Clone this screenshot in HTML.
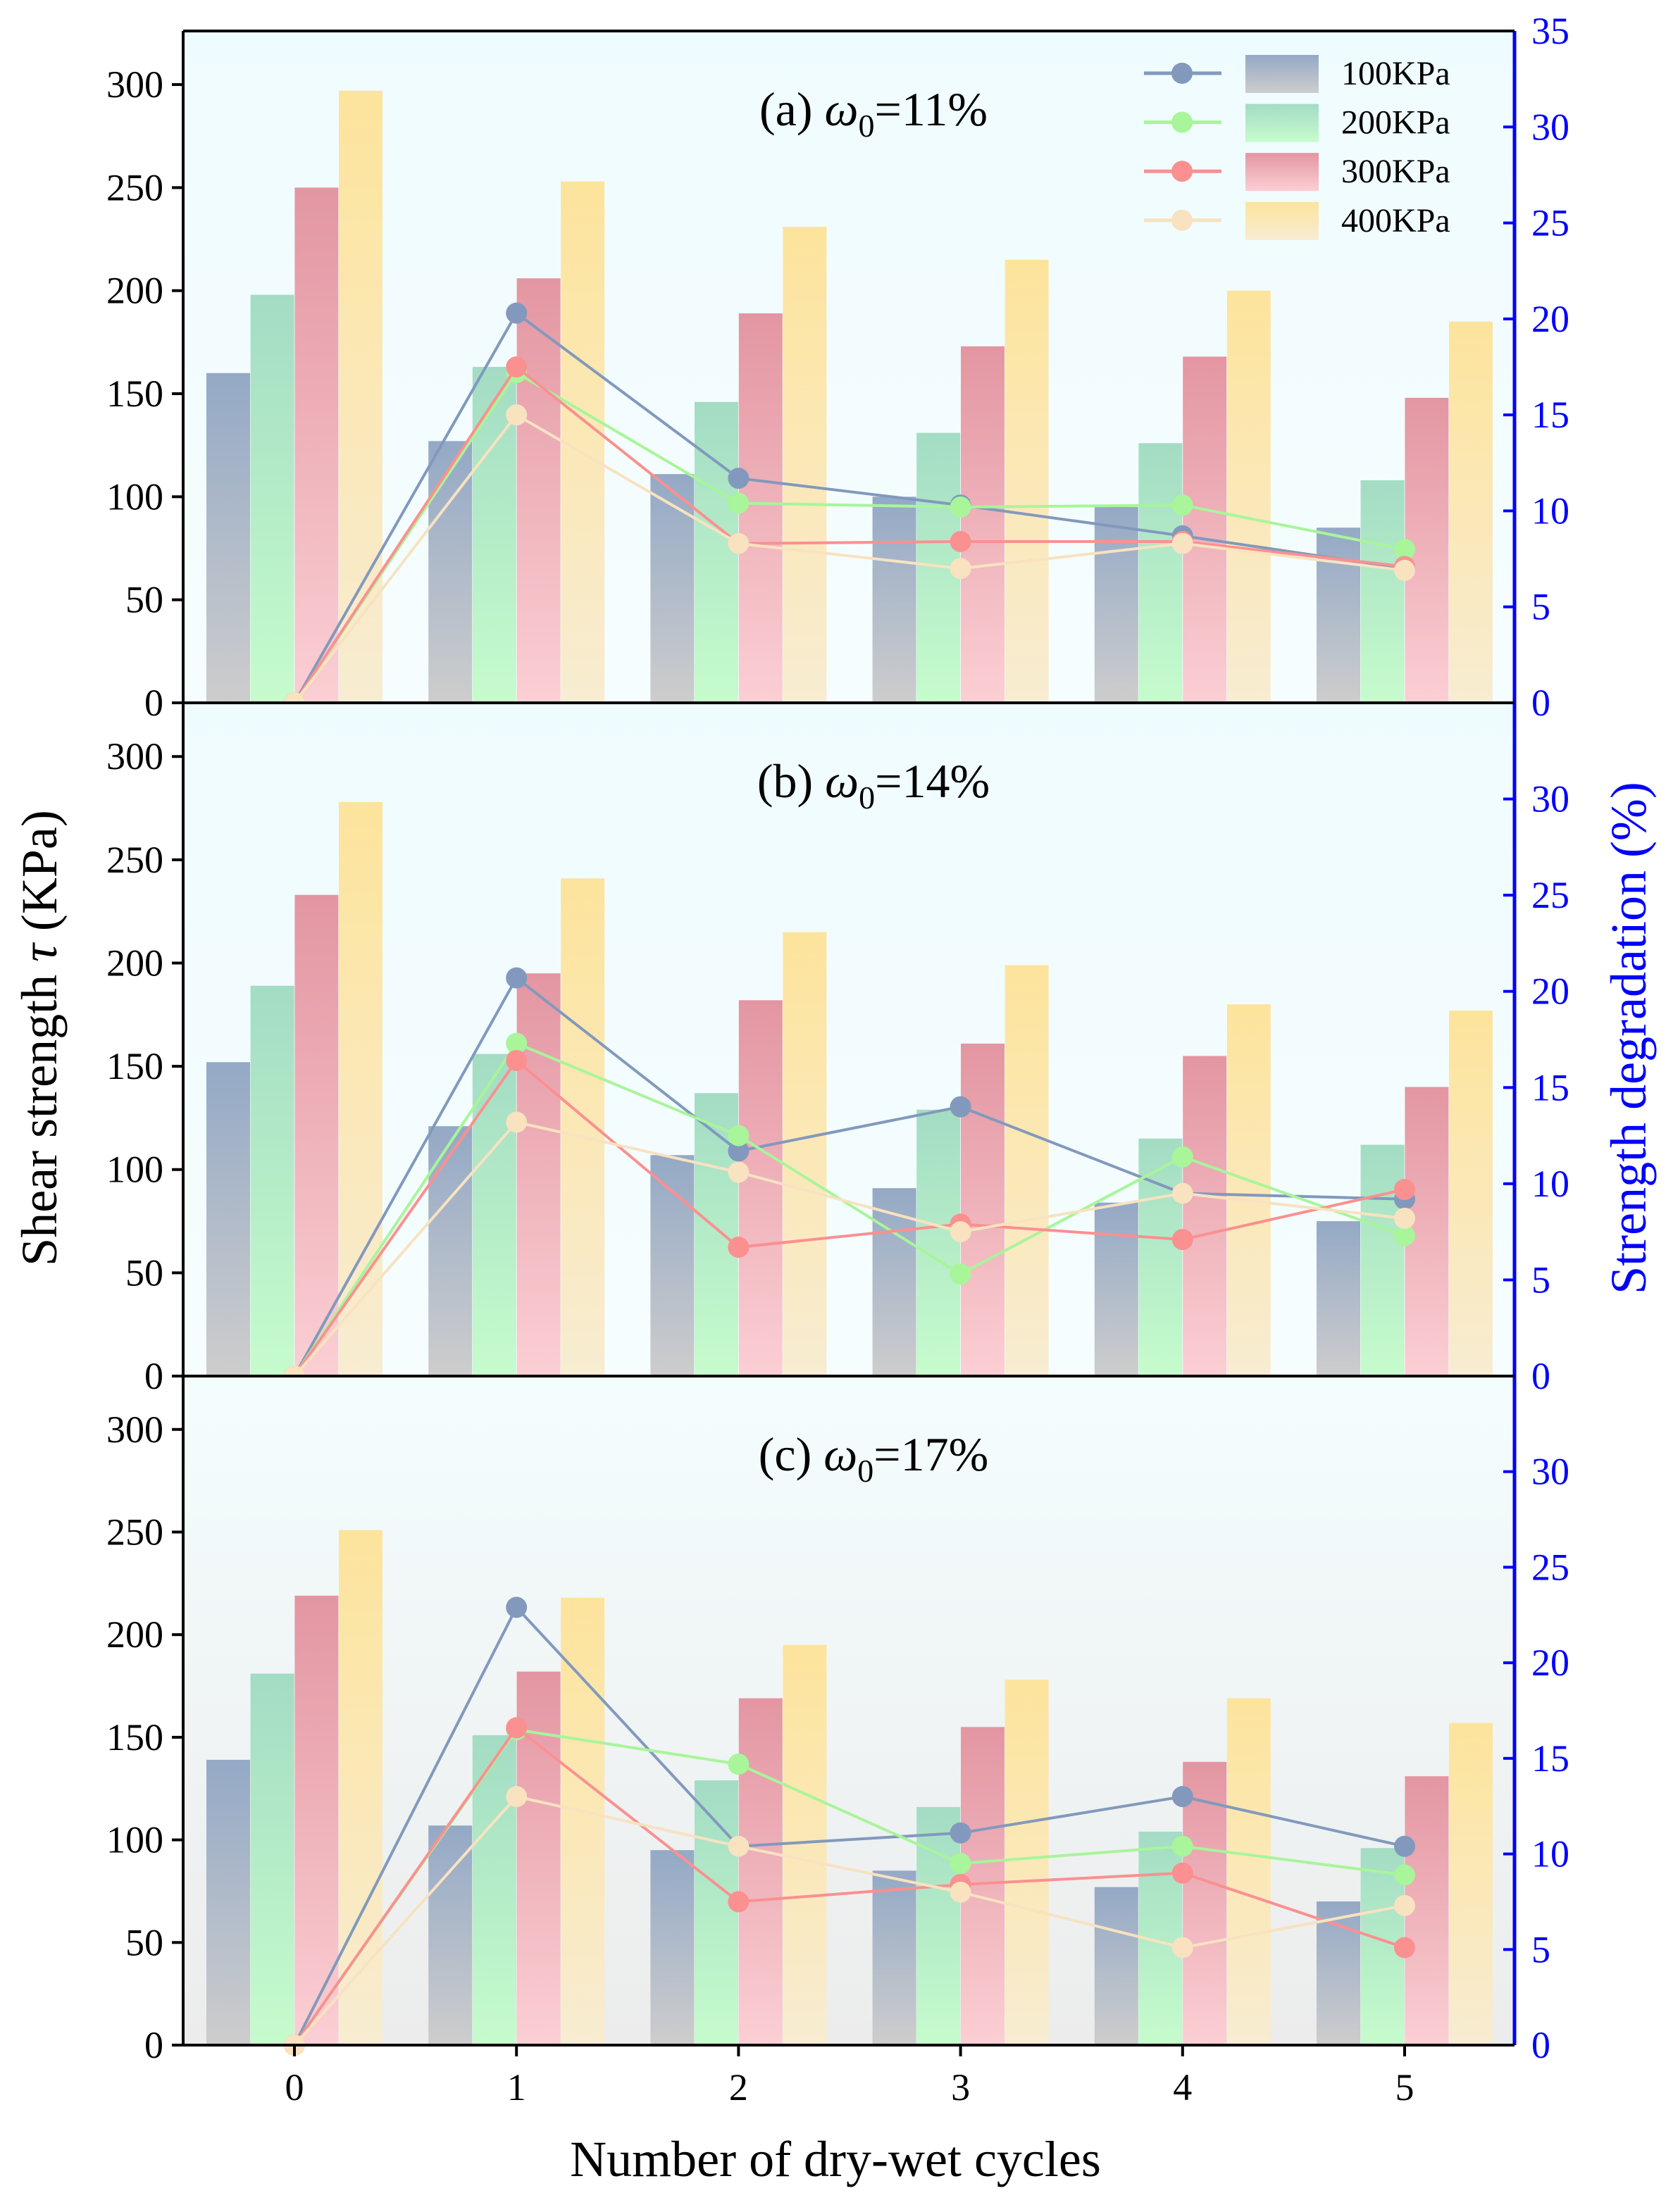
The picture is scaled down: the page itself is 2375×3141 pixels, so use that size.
<!DOCTYPE html>
<html><head><meta charset="utf-8">
<style>html,body{margin:0;padding:0;background:#fff;}svg{display:block;}text{font-family:"Liberation Serif","DejaVu Serif",serif;}</style>
</head><body>
<svg id="chart" width="2375" height="3141" viewBox="0 0 1187.5 1570.5" xmlns="http://www.w3.org/2000/svg">
<defs>
<linearGradient id="bgA" x1="0" y1="0" x2="0" y2="1"><stop offset="0" stop-color="#effcff"/><stop offset="1" stop-color="#f6fdfe"/></linearGradient>
<linearGradient id="bgC" x1="0" y1="0" x2="0" y2="1"><stop offset="0" stop-color="#f4fdfe"/><stop offset="1" stop-color="#ececec"/></linearGradient>
<linearGradient id="g0" x1="0" y1="0" x2="0" y2="1"><stop offset="0" stop-color="#94a9c6"/><stop offset="1" stop-color="#cdcdcd"/></linearGradient>
<linearGradient id="g1" x1="0" y1="0" x2="0" y2="1"><stop offset="0" stop-color="#a3dcc4"/><stop offset="1" stop-color="#c6fccc"/></linearGradient>
<linearGradient id="g2" x1="0" y1="0" x2="0" y2="1"><stop offset="0" stop-color="#e396a2"/><stop offset="1" stop-color="#fbcfd4"/></linearGradient>
<linearGradient id="g3" x1="0" y1="0" x2="0" y2="1"><stop offset="0" stop-color="#fde49c"/><stop offset="1" stop-color="#f8ecd2"/></linearGradient>
</defs>
<g id="root"></g>
</svg>
<script>
const categories=[0,1,2,3,4,5];
const seriesNames=["100KPa","200KPa","300KPa","400KPa"];
const panelTitles=["(a) ω","(b) ω","(c) ω"];
const panelSubs=["=11%","=14%","=17%"];
const barsA=[[160,127,111,100,95,85],[198,163,146,131,126,108],[250,206,189,173,168,148],[297,253,231,215,200,185]];
const barsB=[[152,121,107,91,84,75],[189,156,137,129,115,112],[233,195,182,161,155,140],[278,241,215,199,180,177]];
const barsC=[[139,107,95,85,77,70],[181,151,129,116,104,96],[219,182,169,155,138,131],[251,218,195,178,169,157]];
const linesA=[[0,20.3,11.7,10.3,8.7,7.0],[0,17.2,10.4,10.2,10.3,8.0],[0,17.5,8.3,8.4,8.4,7.1],[0,15.0,8.3,7.0,8.3,6.9]];
const linesB=[[0,20.7,11.7,14.0,9.5,9.2],[0,17.3,12.5,5.3,11.4,7.3],[0,16.4,6.7,7.9,7.1,9.7],[0,13.2,10.6,7.5,9.5,8.2]];
const linesC=[[0,22.9,10.4,11.1,13.0,10.4],[0,16.5,14.7,9.5,10.4,8.9],[0,16.6,7.5,8.4,9.0,5.1],[0,13.0,10.4,8.0,5.1,7.3]];
const leftTicks=[0,50,100,150,200,250,300];
const rightTicksTop=[0,5,10,15,20,25,30,35];
const rightTicks=[0,5,10,15,20,25,30];

const NS="http://www.w3.org/2000/svg";
const root=document.getElementById('root');
function el(t,a,p){const e=document.createElementNS(NS,t);for(const k in a)e.setAttribute(k,a[k]);(p||root).appendChild(e);return e;}
const L=130,R=1075;
const panels=[{top:22,bot:499,bars:barsA,lines:linesA,bg:"url(#bgA)",rt:rightTicksTop},
{top:499,bot:977,bars:barsB,lines:linesB,bg:"url(#bgA)",rt:rightTicks},
{top:977,bot:1452,bars:barsC,lines:linesC,bg:"url(#bgC)",rt:rightTicks}];
const barCols=["url(#g0)","url(#g1)","url(#g2)","url(#g3)"];
const lineCols=["#8299bd","#a8f59a","#fb9090","#f8e2c0"];
const offs=[-47,-15.7,15.7,47];const bw=31;
function xc(i){return 209+i*157.6;}
panels.forEach((p,pi)=>{
  const g=el('g',{});
  
  
  const h=p.bot-p.top;
  const yl=v=>p.bot-v/326*h;
  const yr=v=>p.bot-v/35*h;
  const bg=el('rect',{x:L,y:p.top,width:R-L,height:h,fill:p.bg},g);
  
  
  p.bars.forEach((s,si)=>{s.forEach((v,ci)=>{
    const r=el('rect',{x:xc(ci)+offs[si]-bw/2,y:yl(v),width:bw,height:p.bot-yl(v),fill:barCols[si]},g);
    
    
  });});
  p.lines.forEach((s,si)=>{
    const pts=s.map((v,ci)=>xc(ci)+','+yr(v)).join(' ');
    const pl=el('polyline',{points:pts,fill:'none',stroke:lineCols[si],'stroke-width':2},g);
    
    
    s.forEach((v,ci)=>{
      const c=el('circle',{cx:xc(ci),cy:yr(v),r:7.5,fill:lineCols[si]},g);
      
      
    });
  });
  el('line',{x1:L,y1:p.top,x2:L,y2:p.bot,stroke:'#000','stroke-width':2},g);
  leftTicks.forEach(t=>{
    el('line',{x1:L-8,y1:yl(t),x2:L,y2:yl(t),stroke:'#000','stroke-width':2},g);
    const tx=el('text',{x:L-14,y:yl(t)+9,'text-anchor':'end','font-size':27},g);tx.textContent=t;
    
    
  });
  el('line',{x1:R,y1:p.top,x2:R,y2:p.bot,stroke:'#0000ff','stroke-width':2.5},g);
  p.rt.forEach(t=>{
    el('line',{x1:R-8,y1:yr(t),x2:R,y2:yr(t),stroke:'#0000ff','stroke-width':2},g);
    const tx=el('text',{x:R+12,y:yr(t)+9,'font-size':27,fill:'#0000ff'},g);tx.textContent=t;
    
    
  });
  el('line',{x1:L,y1:p.top,x2:R,y2:p.top,stroke:'#000','stroke-width':2},g);
  const tt=el('text',{x:620,y:p.top+67,'text-anchor':'middle','font-size':34},g);
  
  
  tt.innerHTML=panelTitles[pi].replace('ω','<tspan font-style="italic">ω</tspan>')+'<tspan font-size="23" dy="8">0</tspan><tspan dy="-8">'+panelSubs[pi]+'</tspan>';
});
el('line',{x1:L,y1:1452,x2:R,y2:1452,stroke:'#000','stroke-width':2});
categories.forEach((c,ci)=>{
  el('line',{x1:xc(ci),y1:1452,x2:xc(ci),y2:1460,stroke:'#000','stroke-width':2});
  const tx=el('text',{x:xc(ci),y:1491,'text-anchor':'middle','font-size':27});tx.textContent=c;
  
  
});
const xt=el('text',{x:593,y:1545,'text-anchor':'middle','font-size':36});xt.textContent='Number of dry-wet cycles';


const yt=el('text',{transform:'translate(40,737) rotate(-90)','text-anchor':'middle','font-size':36});
yt.innerHTML='Shear strength <tspan font-style="italic">τ</tspan> (KPa)';


const yt2=el('text',{transform:'translate(1168,737) rotate(-90)','text-anchor':'middle','font-size':36,fill:'#0000ff'});
yt2.textContent='Strength degradation (%)';


seriesNames.forEach((n,i)=>{
  const y=52+i*34.8;
  const lg=el('g',{});
  
  
  el('line',{x1:812,y1:y,x2:867,y2:y,stroke:lineCols[i],'stroke-width':2.5},lg);
  el('circle',{cx:839,cy:y,r:7.5,fill:lineCols[i]},lg);
  el('rect',{x:884,y:y-13,width:52,height:27,fill:barCols[i]},lg);
  const t=el('text',{x:952,y:y+8,'font-size':24},lg);t.textContent=n;
});
</script>
</body></html>
